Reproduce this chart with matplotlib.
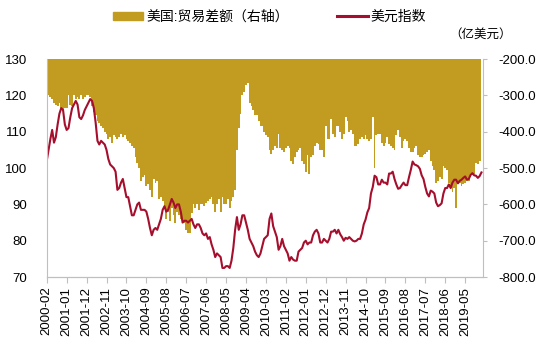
import numpy as np
import pandas as pd
import matplotlib
matplotlib.use("Agg")
import matplotlib.pyplot as plt
from matplotlib.patches import Patch
from matplotlib.lines import Line2D

plt.rcParams['font.family'] = ['Liberation Sans', 'Noto Sans CJK SC', 'DejaVu Sans']

# monthly categories 2000-02 .. 2020-02
months = pd.period_range('2000-02', '2020-02', freq='M').strftime('%Y-%m').tolist()

# 美元指数, 2000-02 .. 2020-02
usd_index = [
    102, 105, 108, 110.5, 107, 108.5, 112, 115, 116.5, 116, 112,                    # 2000
    110.5, 111, 114, 116.5, 117.5, 118.5, 117.5, 114, 113.5, 114.5, 116, 117,       # 2001
    118, 119, 118.5, 116.5, 112.5, 107.5, 106.5, 107.5, 107, 106.5, 105, 102.5,     # 2002
    101, 100.5, 100, 99, 94, 94.5, 96, 97, 94.5, 92, 92, 89.5,                      # 2003
    87, 87, 88.5, 90, 90.5, 88.5, 88.5, 88.5, 88, 86, 83.5, 81.5,                   # 2004
    83, 83.5, 83, 84.5, 86, 88.5, 89.5, 88, 88.5, 90, 91.5, 90.5,                   # 2005
    89, 90, 90, 88, 85, 85.5, 85.5, 85, 85.5, 86, 84.5, 83.5,                       # 2006
    84.5, 84.5, 83.5, 82, 81.5, 82, 80.5, 81, 79, 77.5, 75.5, 76.5,                 # 2007
    76, 75.5, 72.5, 72.5, 73, 73, 72.5, 74.5, 78, 83, 86.5, 83,                     # 2008
    84.5, 87, 87, 85, 83, 80.5, 79.5, 78.5, 77, 76, 75.5, 76.5,                     # 2009
    78.5, 80.5, 81, 81.5, 86, 87.5, 84, 82.5, 81, 77.5, 78.5, 80.5,                 # 2010
    78.5, 77.5, 76.5, 74.5, 75.5, 74.8, 74.5, 74.5, 77, 77.5, 78, 79.5,             # 2011
    80, 79, 79.5, 79.5, 81.5, 82.5, 83, 82, 79.5, 79.5, 80.5, 80,                   # 2012
    79.5, 80.5, 82.5, 82.5, 83, 82, 83, 81.8, 81, 80, 80.8, 80.5,                   # 2013
    81, 80.5, 80, 79.8, 80, 80.5, 80.5, 82, 84.5, 85.8, 87.8, 89,                   # 2014
    93, 94.8, 97.9, 97.5, 95.5, 95.5, 96.8, 96, 96, 95.5, 98.5, 98.5,               # 2015
    99, 97, 95.5, 94.3, 94.5, 95.3, 96, 95.3, 95.3, 97.5, 99.5, 101.8,              # 2016
    101, 100.8, 100.5, 99.8, 98, 97, 94.8, 93, 92.2, 93.8, 93.5, 93,                # 2017
    90.5, 89.5, 89.8, 90.3, 93, 94.5, 94.5, 95.5, 94.5, 96, 96.8, 96.8,             # 2018
    95.8, 96.5, 96.8, 97.3, 97.7, 96.8, 97, 98.1, 98.6, 98, 97.9, 97.3,             # 2019
    97.8, 98.8,                                                                     # 2020
]

# 美国:贸易差额 (亿美元), 2000-02 .. 2020-01
trade_balance = [
    -305, -300, -305, -310, -320, -325, -330, -320, -335, -340, -335,               # 2000
    -335, -300, -325, -330, -300, -310, -305, -310, -300, -310, -305, -300,         # 2001
    -300, -305, -330, -345, -355, -370, -375, -385, -390, -400, -405, -420,         # 2002
    -415, -430, -410, -415, -420, -415, -405, -415, -410, -420, -425, -430,         # 2003
    -440, -445, -470, -485, -500, -535, -525, -520, -550, -545, -560, -580,         # 2004
    -530, -540, -535, -585, -580, -590, -605, -640, -620, -645, -610, -630,         # 2005
    -650, -620, -630, -640, -650, -650, -670, -680, -680, -625, -600, -610,         # 2006
    -600, -615, -600, -600, -605, -595, -590, -585, -580, -600, -620, -600,         # 2007
    -585, -620, -580, -600, -600, -585, -610, -590, -580, -560, -450, -390,         # 2008
    -350, -300, -290, -270, -265, -320, -330, -340, -355, -355, -370, -385,         # 2009
    -385, -400, -410, -415, -450, -460, -450, -440, -445, -405, -445, -450,         # 2010
    -455, -445, -440, -445, -480, -490, -470, -455, -450, -445, -480, -490,         # 2011
    -510, -465, -515, -470, -465, -440, -430, -435, -450, -450, -470, -385,         # 2012
    -420, -420, -365, -405, -415, -385, -385, -400, -420, -405, -360, -370,         # 2013
    -400, -395, -405, -440, -440, -435, -420, -415, -420, -410, -420, -425,         # 2014
    -420, -360, -500, -410, -405, -405, -430, -440, -430, -415, -435, -440,         # 2015
    -445, -450, -410, -395, -415, -445, -425, -420, -425, -445, -455, -455,         # 2016
    -445, -440, -465, -470, -470, -465, -460, -455, -450, -480, -495, -505,         # 2017
    -540, -535, -525, -530, -495, -500, -505, -540, -555, -565, -555, -610,         # 2018
    -545, -540, -550, -545, -540, -535, -535, -525, -520, -515, -485, -490,         # 2019
    -480,                                                                           # 2020
]

gold = '#C29B21'
red = '#A50F2D'
grey = '#BFBFBF'

fig = plt.figure(figsize=(5.5, 3.52), dpi=100)
ax = fig.add_axes([0.085, 0.213, 0.793, 0.619])
ax2 = ax.twinx()

x_line = np.arange(len(usd_index))
# one bar per month, centred on the month, drawn as one filled outline so no seams show
bar_edges = np.arange(len(trade_balance) + 1) - 0.5

ax2.stairs(trade_balance, bar_edges, baseline=0, fill=True, color=gold, linewidth=0)
ax.plot(x_line, usd_index, color=red, linewidth=1.5)

ax.set_zorder(ax2.get_zorder() + 1)
ax.patch.set_visible(False)

ax.set_xlim(0, 240.8)
ax.set_ylim(70, 130)
ax.set_yticks(np.arange(70, 131, 10))
ax2.set_ylim(-800, -200)
ax2.set_yticks(np.arange(-800, -199, 100))
ax2.set_yticklabels(['%.1f' % v for v in np.arange(-800, -199, 100)])

tick_pos = np.arange(0, len(months), 11)[:22]
ax.set_xticks(tick_pos)
ax.set_xticklabels([months[i] for i in tick_pos], rotation=90)

for a in (ax, ax2):
    for s in a.spines.values():
        s.set_color(grey)
    a.spines['top'].set_visible(False)
ax.spines['right'].set_visible(False)
ax2.spines['left'].set_visible(False)

ax.tick_params(axis='x', length=4, color=grey, labelsize=9.5, pad=3)
ax.tick_params(axis='y', length=0, labelsize=9.5, pad=14)
ax2.tick_params(axis='y', length=3, color=grey, labelsize=9.5, pad=8)

handles = [Patch(facecolor=gold, edgecolor=gold), Line2D([], [], color=red, linewidth=2.2)]
fig.legend(handles, ['美国:贸易差额（右轴）', '美元指数'], loc='center',
           bbox_to_anchor=(0.49, 0.952), ncol=2, frameon=False, fontsize=10,
           handlelength=2.2, handleheight=0.6, handletextpad=0.2, columnspacing=3.5)
fig.text(0.93, 0.90, '（亿美元）', ha='right', va='center', fontsize=9)

fig.savefig('out.png', dpi=100)
